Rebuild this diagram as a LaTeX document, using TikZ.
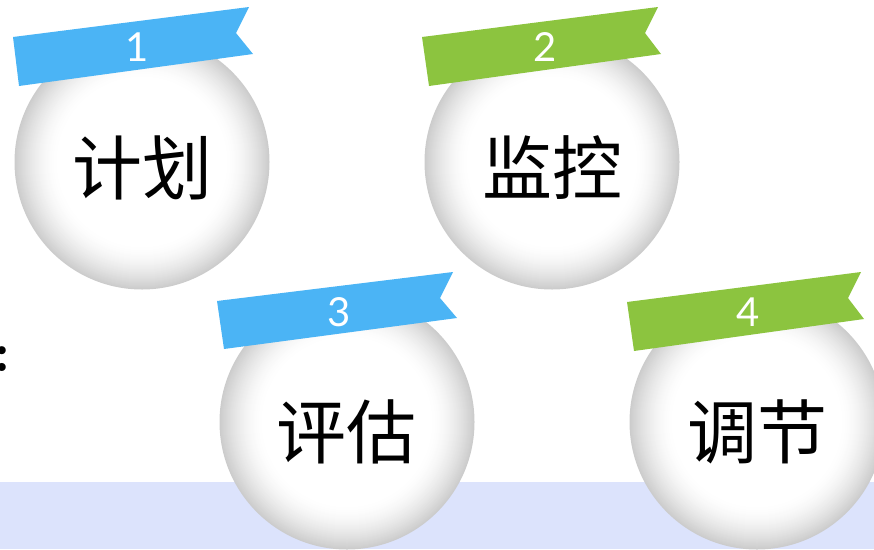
\documentclass[tikz,border=0pt]{standalone}
\usepackage{fontspec}
\newfontfamily\cjk{Noto Sans CJK SC}
\newfontfamily\numfont{Lato}
\definecolor{rblue}{HTML}{4BB4F5}
\definecolor{rgreen}{HTML}{8CC43F}
\definecolor{bandc}{HTML}{DCE3FC}
\newcommand\myballfill[1]{%
  \foreach \k in {0,...,44}{%
    \pgfmathsetmacro\rr{127.5-\k*1.0}%
    \pgfmathsetmacro\gg{20*(1-\k/44)^1.7}%
    \fill[black!\gg] (#1) circle[radius=\rr pt];
  }%
  \fill[white] (#1) circle[radius=83pt];
}
\tikzset{
  ball/.style={circle, minimum size=255pt, inner sep=0pt},
  cjktxt/.style={font=\cjk\fontsize{70}{70}\selectfont, inner sep=0pt},
  numtxt/.style={font=\numfont\fontsize{40}{40}\selectfont, text=white, inner sep=0pt},
}
\begin{document}
\begin{tikzpicture}[x=1pt,y=-1pt]
\useasboundingbox (0,0) rectangle (874,549);
\clip (0,0) rectangle (874,549);
\fill[bandc] (0,482) rectangle (874,549);
\node[anchor=base, inner sep=0pt, font=\fontsize{56}{56}\selectfont\bfseries] (colon) at (2,371) {:};
\node[ball] (b1) at (142,162) {};
\node[ball] (b2) at (552,162) {};
\node[ball] (b3) at (347,422) {};
\node[ball] (b4) at (757,422) {};
\myballfill{b1.center}
\myballfill{b2.center}
\myballfill{b3.center}
\myballfill{b4.center}
\fill[rblue] (13,37) -- (249,7) -- (236,33) -- (253,54) -- (19,86) -- cycle;
\fill[rgreen] (422,37) -- (658,7) -- (645,33) -- (661,54) -- (429,86) -- cycle;
\fill[rblue] (217,301) -- (453,272) -- (440,298) -- (457,318) -- (224,349) -- cycle;
\fill[rgreen] (627,302) -- (861,272) -- (848,298) -- (864,319) -- (634,351) -- cycle;
\node[numtxt] (n1) at (137,47) {1};
\node[numtxt] (n2) at (545,47) {2};
\node[numtxt] (n3) at (339,312) {3};
\node[numtxt] (n4) at (748,312) {4};
\node[cjktxt] (t1) at (142,168) {计划};
\node[cjktxt] (t2) at (552,168) {监控};
\node[cjktxt] (t3) at (346,432) {评估};
\node[cjktxt] (t4) at (757,432) {调节};
\end{tikzpicture}
\end{document}
